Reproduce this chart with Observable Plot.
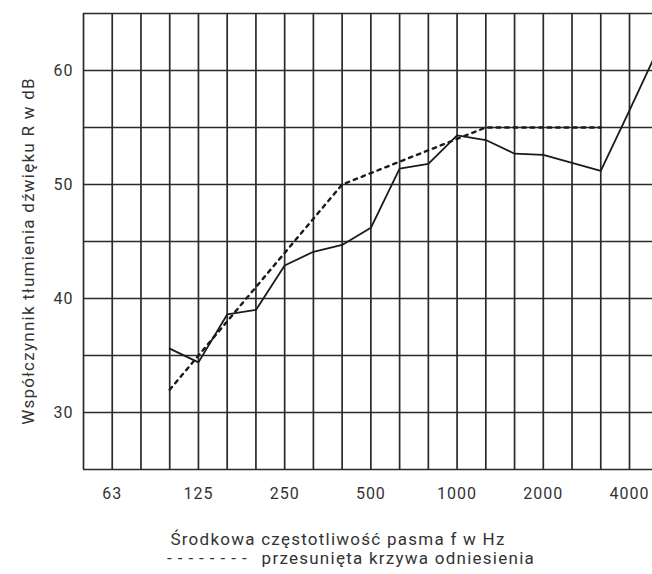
<!DOCTYPE html>
<html><head><meta charset="utf-8">
<script src="https://cdn.jsdelivr.net/npm/d3@7"></script>
<script src="https://cdn.jsdelivr.net/npm/@observablehq/plot@0.6"></script>
<style>
body{margin:0;background:#fff;width:652px;height:574px;overflow:hidden;position:relative;font-family:Roboto,sans-serif;color:#333}
#chart{position:absolute;left:0;top:0}
.t{position:absolute;font-size:17px;line-height:20px;letter-spacing:1.25px;white-space:nowrap}
#ytitle{left:28px;top:251px;transform:translate(-50%,-50%) rotate(-90deg)}
#xtitle{left:338px;top:529px;transform:translateX(-50%)}
#legend{left:167px;top:548px}
#legend .dash{letter-spacing:6px;margin-right:9px}
</style></head><body>
<div id="chart"></div>
<div class="t" id="ytitle">Współczynnik tłumienia dźwięku R w dB</div>
<div class="t" id="xtitle">Środkowa częstotliwość pasma f w Hz</div>
<div class="t" id="legend"><span class="dash">--------</span>przesunięta krzywa odniesienia</div>
<script>
// one-third-octave band centre frequencies (Hz)
const bands = ["50","63","80","100","125","160","200","250","315","400","500","630","800","1000","1250","1600","2000","2500","3150","4000","5000"];
const tickLabels = ["63","125","250","500","1000","2000","4000"];
// measured sound reduction index R (dB)
const measuredBands = ["100","125","160","200","250","315","400","500","630","800","1000","1250","1600","2000","2500","3150","4000","5000"];
const measured = [35.6,34.4,38.6,39.0,42.9,44.1,44.7,46.2,51.4,51.8,54.3,53.9,52.7,52.6,51.9,51.2,56.5,61.9];
// shifted reference curve (dB)
const refBands = ["100","125","160","200","250","315","400","500","630","800","1000","1250","1600","2000","2500","3150"];
const reference = [32,35,38,41,44,47,50,51,52,53,54,55,55,55,55,55];
const yTickValues = [30,40,50,60];
const yGridValues = [25,30,35,40,45,50,55,60,65];

const idx = b => bands.indexOf(b);
const gridBands = bands.slice(0, 20);
const measData = measuredBands.map((b, i) => ({i: idx(b), v: measured[i]}));
const refData = refBands.map((b, i) => ({i: idx(b), v: reference[i]}));
const ink = "#2a2a2a";

const chart = Plot.plot({
  width: 652, height: 548,
  marginTop: 13, marginBottom: 79, marginLeft: 83, marginRight: 0,
  style: {fontFamily: "Roboto, sans-serif", fontSize: "16px", color: "#333", background: "#fff", letterSpacing: "1px"},
  x: {type: "linear", domain: [0, 19.8]},
  y: {domain: [25, 65]},
  marks: [
    Plot.ruleX(gridBands.map(idx), {stroke: ink, strokeWidth: 1.7}),
    Plot.ruleY(yGridValues, {stroke: ink, strokeWidth: 1.7}),
    Plot.axisX(tickLabels.map(idx), {tickSize: 0, tickPadding: 18, tickFormat: d => bands[d], label: null, fontSize: 16}),
    Plot.axisY(yTickValues, {tickSize: 0, tickPadding: 10, label: null, fontSize: 16}),
    Plot.line(refData, {x: "i", y: "v", stroke: "#1a1a1a", strokeWidth: 2.4, strokeDasharray: "3.5,5"}),
    Plot.line(measData, {x: "i", y: "v", stroke: "#1a1a1a", strokeWidth: 1.8, clip: true})
  ]
});
document.getElementById("chart").append(chart);
</script>
</body></html>
